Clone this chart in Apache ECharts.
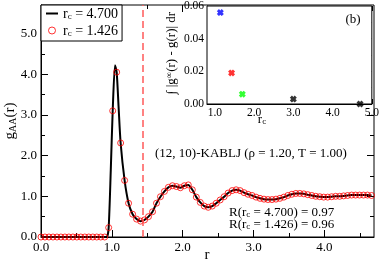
<!DOCTYPE html>
<html><head><meta charset="utf-8">
<script src="https://cdn.jsdelivr.net/npm/echarts@6/dist/echarts.min.js"></script>
<style>html,body{margin:0;padding:0;background:#fff}#c{width:382px;height:262px}</style>
</head><body><div id="c"></div>
<script>
// ---- data ----
const rValues = [0,0.056,0.112,0.169,0.225,0.281,0.337,0.393,0.450,0.506,0.562,0.618,0.674,0.731,0.787,0.843,0.899,
  0.955,1.012,1.068,1.124,1.180,1.236,1.293,1.349,1.405,1.461,1.517,1.574,1.630,1.686,1.742,1.798,1.855,1.911,1.967,
  2.023,2.079,2.136,2.192,2.248,2.304,2.360,2.417,2.473,2.529,2.585,2.641,2.698,2.754,2.810,2.866,2.922,2.979,
  3.035,3.091,3.147,3.203,3.260,3.316,3.372,3.428,3.484,3.541,3.597,3.653,3.709,3.765,3.822,3.878,3.934,3.990,
  4.046,4.103,4.159,4.215,4.271,4.327,4.384,4.440,4.496,4.552,4.608,4.665];
const gValues = [0,0,0,0,0,0,0,0,0,0,0,0,0,0,0,0,0,
  0.23,3.10,4.05,2.31,1.39,0.83,0.56,0.44,0.39,0.42,0.50,0.62,0.83,0.99,1.12,1.22,1.26,1.24,1.21,
  1.26,1.28,1.16,0.98,0.85,0.76,0.73,0.76,0.83,0.91,0.99,1.08,1.14,1.16,1.14,1.09,1.05,1.02,
  0.98,0.95,0.93,0.92,0.92,0.93,0.95,0.98,1.02,1.05,1.07,1.07,1.06,1.04,1.02,1.00,0.99,0.98,
  0.98,0.99,1.00,1.00,1.01,1.02,1.03,1.03,1.03,1.03,1.03,1.02];
// extra points of the r_c = 4.700 line around the first peak
const linePeakR = [0.93, 0.985, 1.045, 1.095];
const linePeakG = [0.0, 1.65, 4.22, 3.20];
const cutoffR = 1.426;
// inset (b)
const insetRc = [1.14, 1.426, 1.70, 3.0, 4.7];
const insetDev = [0.056, 0.019, 0.006, 0.003, 0.0];
const insetColors = ['#0000ff', '#ff0000', '#00ff00', '#000000', '#000000'];
// tick positions
const mainXMajor = [0, 1, 2, 3, 4];
const mainXMinor = [0.5, 1.5, 2.5, 3.5, 4.5];
const mainYMajor = [0, 1, 2, 3, 4, 5];
const mainYMinor = [0.5, 1.5, 2.5, 3.5, 4.5, 5.5];
const mainTopMajor = [2];
const mainTopMinor = [1.5];
const mainRightMajor = [0, 1, 2, 3];
const mainRightMinor = [0.5, 1.5, 2.5];
const insetXMajor = [1, 2, 3, 4, 5];
const insetXMinor = [1.5, 2.5, 3.5, 4.5];
const insetYMajor = [0, 0.02, 0.04, 0.06];
const insetYMinor = [0.01, 0.03, 0.05];

// ---- chart ----
const FF = 'Liberation Serif';
const circleData = rValues.map((r, i) => [r, gValues[i]]);
const lineData = circleData.concat(linePeakR.map((r, i) => [r, linePeakG[i]])).sort((a, b) => a[0] - b[0]);
const insetData = insetRc.map((r, i) => ({ value: [r, insetDev[i]], itemStyle: { color: insetColors[i] } }));

function ax(grid, pos, min, max, ticks, len, showLine, fmt, fs, margin) {
  return {
    type: 'value', gridIndex: grid, position: pos, min: min, max: max,
    axisLine: { show: showLine, onZero: false, lineStyle: { color: '#000', width: 1 } },
    axisTick: { show: true, inside: true, length: len, customValues: ticks, lineStyle: { color: '#000', width: 1 } },
    axisLabel: fmt ? { show: true, customValues: ticks, formatter: fmt, fontFamily: FF, fontSize: fs, color: '#000', margin: margin } : { show: false },
    splitLine: { show: false }
  };
}
const f1 = v => v.toFixed(1), f2 = v => v.toFixed(2);
const subRich = (fs, sfs) => ({
  a: { fontFamily: FF, fontSize: fs, lineHeight: fs + 1, verticalAlign: 'bottom', fill: '#000', color: '#000' },
  s: { fontFamily: FF, fontSize: sfs, lineHeight: 4, verticalAlign: 'bottom', fill: '#000', color: '#000' }
});

const option = {
  animation: false,
  backgroundColor: '#fff',
  grid: [
    { left: 41, right: 8, top: 5, bottom: 25, show: true, borderColor: '#000', borderWidth: 1, backgroundColor: 'transparent' },
    { left: 207, right: 8, top: 5, bottom: 158, show: true, borderColor: '#000', borderWidth: 1, backgroundColor: '#fff', z: 3 }
  ],
  xAxis: [
    ax(0, 'bottom', 0, 4.7, mainXMajor, 7, true, f1, 13, 4),
    ax(0, 'bottom', 0, 4.7, mainXMinor, 4, false),
    ax(0, 'top', 0, 4.7, mainTopMajor, 7, false),
    ax(0, 'top', 0, 4.7, mainTopMinor, 4, false),
    ax(1, 'bottom', 0.8, 5, insetXMajor, 5, true, f1, 11.5, 3),
    ax(1, 'bottom', 0.8, 5, insetXMinor, 3, false),
    ax(1, 'top', 0.8, 5, insetXMajor, 5, false),
    ax(1, 'top', 0.8, 5, insetXMinor, 3, false)
  ],
  yAxis: [
    ax(0, 'left', 0, 5.7, mainYMajor, 7, true, f1, 13, 4),
    ax(0, 'left', 0, 5.7, mainYMinor, 4, false),
    ax(0, 'right', 0, 5.7, mainRightMajor, 7, false),
    ax(0, 'right', 0, 5.7, mainRightMinor, 4, false),
    ax(1, 'left', 0, 0.06, insetYMajor, 5, true, f2, 11.5, 3),
    ax(1, 'left', 0, 0.06, insetYMinor, 3, false),
    ax(1, 'right', 0, 0.06, insetYMajor, 5, false),
    ax(1, 'right', 0, 0.06, insetYMinor, 3, false)
  ],
  legend: {
    left: 41, top: 5, orient: 'vertical', selectedMode: false,
    backgroundColor: '#fff', borderColor: '#000', borderWidth: 1, borderRadius: 0,
    padding: [2, 4, 3, 5], itemGap: 3, itemWidth: 12, itemHeight: 7,
    data: [
      { name: 'L', icon: 'path://M0,0 L12,0 L12,2 L0,2 Z', itemStyle: { color: '#000' } },
      { name: 'C', icon: 'circle', itemStyle: { color: 'rgba(0,0,0,0)', borderColor: '#ff0000', borderWidth: 1 } }
    ],
    formatter: n => n === 'L' ? '{a|r}{s|c}{a| = 4.700}' : '{a|r}{s|c}{a| = 1.426}',
    textStyle: { fontFamily: FF, fontSize: 14, color: '#000', rich: subRich(14, 9) }
  },
  series: [
    {
      name: 'L', type: 'line', xAxisIndex: 0, yAxisIndex: 0, data: lineData,
      showSymbol: false, symbol: 'none', smooth: 0.25, z: 2,
      lineStyle: { color: '#000', width: 2 }, itemStyle: { color: '#000' },
      markLine: {
        silent: true, symbol: ['none', 'none'], label: { show: false },
        lineStyle: { color: '#ff5a5a', type: [7, 4], width: 1.5 },
        data: [{ xAxis: cutoffR }]
      }
    },
    {
      name: 'C', type: 'scatter', xAxisIndex: 0, yAxisIndex: 0, data: circleData,
      symbol: 'circle', symbolSize: 6, z: 3,
      itemStyle: { color: 'rgba(0,0,0,0)', borderColor: '#ff0000', borderWidth: 1 }
    },
    {
      name: 'inset', type: 'scatter', xAxisIndex: 4, yAxisIndex: 4, data: insetData, z: 5,
      symbol: 'path://M0,3 L3,0 L5,2 L7,0 L10,3 L8,5 L10,7 L7,10 L5,8 L3,10 L0,7 L2,5 Z', symbolSize: 7
    }
  ],
  graphic: [
    { type: 'text', x: 10, y: 121, rotation: Math.PI / 2, z: 10,
      style: { text: '{a|g}{s|AA}{a|(r)}', align: 'center', verticalAlign: 'middle', rich: subRich(15, 10) } },
    { type: 'text', x: 207, y: 255, z: 10,
      style: { text: 'r', font: '15px ' + FF, fill: '#000', align: 'center', verticalAlign: 'middle' } },
    { type: 'text', x: 155, y: 154, z: 10,
      style: { text: '(12, 10)-KABLJ (ρ = 1.20, T = 1.00)', font: '13px ' + FF, fill: '#000', align: 'left', verticalAlign: 'middle' } },
    { type: 'text', x: 229, y: 212, z: 10,
      style: { text: '{a|R(r}{s|c}{a| = 4.700) = 0.97}', align: 'left', verticalAlign: 'middle', rich: subRich(13, 9) } },
    { type: 'text', x: 229, y: 224, z: 10,
      style: { text: '{a|R(r}{s|c}{a| = 1.426) = 0.96}', align: 'left', verticalAlign: 'middle', rich: subRich(13, 9) } },
    { type: 'text', x: 353, y: 20, z: 10,
      style: { text: '(b)', font: '13px ' + FF, fill: '#000', align: 'center', verticalAlign: 'middle' } },
    { type: 'text', x: 172, y: 53, rotation: Math.PI / 2, z: 10,
      style: { text: '{a|∫ |g}{p|∞}{a|(r) - g(r)| dr}', align: 'center', verticalAlign: 'middle',
        rich: { a: { fontFamily: FF, fontSize: 13, lineHeight: 14, verticalAlign: 'top', fill: '#000' },
                p: { fontFamily: FF, fontSize: 9, lineHeight: 4, verticalAlign: 'top', fill: '#000' } } } },
    { type: 'text', x: 262, y: 119, z: 10,
      style: { text: '{a|r}{s|c}', align: 'center', verticalAlign: 'middle', rich: subRich(13, 9) } }
  ]
};
const chart = echarts.init(document.getElementById('c'), null, { renderer: 'canvas' });
chart.setOption(option);
</script></body></html>
